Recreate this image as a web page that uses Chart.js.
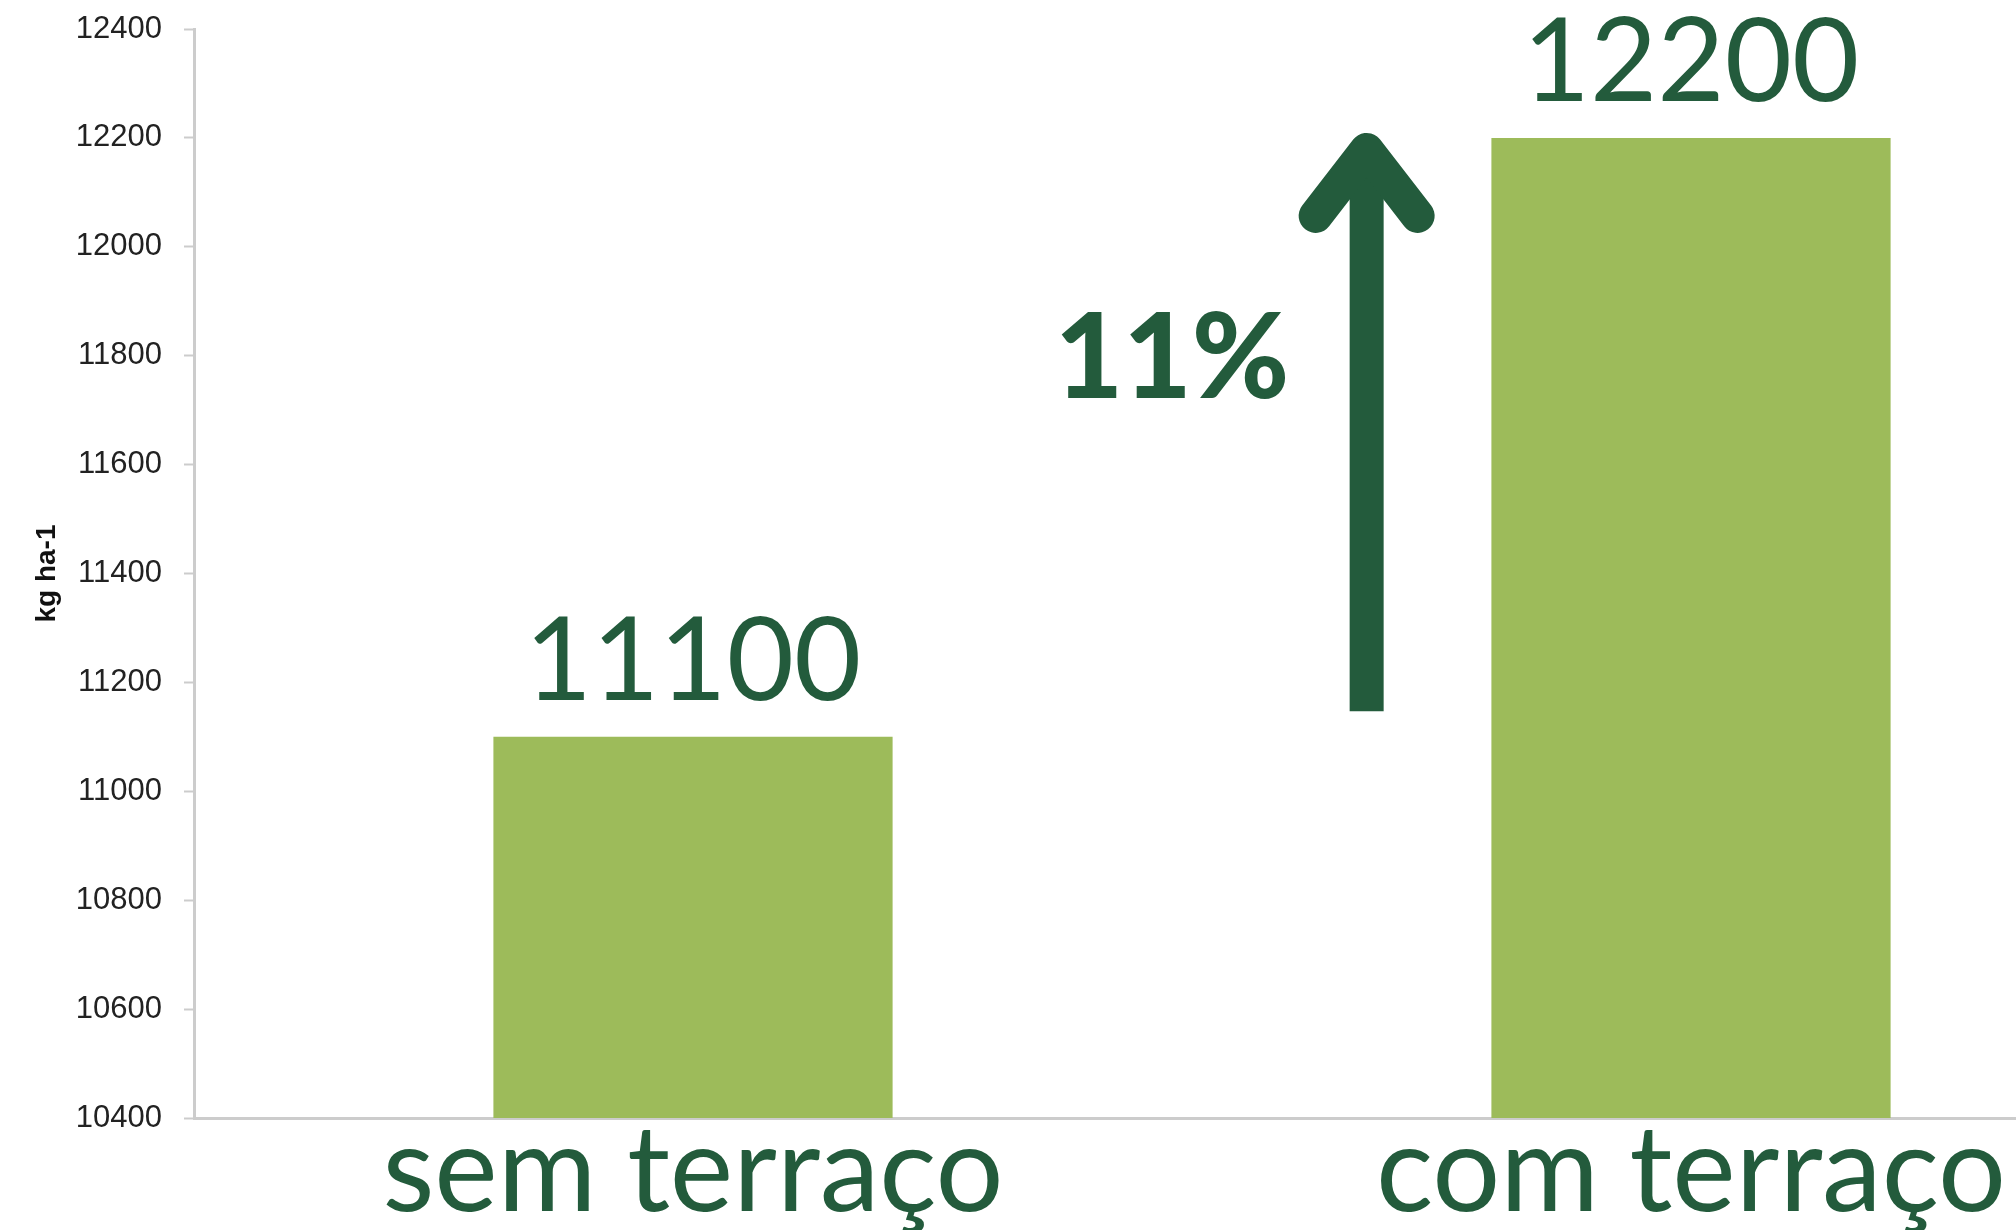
<!DOCTYPE html>
<html>
<head>
<meta charset="utf-8">
<script src="https://cdn.jsdelivr.net/npm/chart.js@4/dist/chart.umd.min.js"></script>
<style>
  html, body { margin: 0; padding: 0; background: #ffffff; overflow: hidden; }
  #wrap { width: 2190px; height: 1230px; }
</style>
</head>
<body>
<div id="wrap"><canvas id="c" width="2190" height="1230"></canvas></div>
<script>
// ---- data ----
const categories = ['sem terraço', 'com terraço'];
const yieldValues = [11100, 12200];
const valueLabels = ['11100', '12200'];
const yTicks = [10400, 10600, 10800, 11000, 11200, 11400, 11600, 11800, 12000, 12200, 12400];
const yAxisTitle = 'kg ha-1';
const increaseLabel = '11%';
// annotation in data space: arrow between the categories
const arrowX = [0.675];            // category-index position
const arrowRange = [11147, 12178]; // from, to (kg ha-1)
const increasePos = [0.48, 11792]; // category-index, value

const DARK = '#235b3c';
const BAR = '#9dbb5a';
const AXIS = '#cccccc';

const annotations = {
  id: 'annotations',
  afterDatasetsDraw(chart) {
    const ctx = chart.ctx;
    const xs = chart.scales.x, ys = chart.scales.y;
    const meta = chart.getDatasetMeta(0);
    ctx.save();
    // value labels
    ctx.fillStyle = DARK;
    ctx.font = '400 116px Lato';
    ctx.textAlign = 'center';
    ctx.textBaseline = 'alphabetic';
    meta.data.forEach((bar, i) => {
      ctx.fillText(valueLabels[i], bar.x, bar.y - 37);
    });
    // arrow
    const ax = xs.getPixelForValue(arrowX[0]);
    const yb = ys.getPixelForValue(arrowRange[0]);
    const yt = ys.getPixelForValue(arrowRange[1]);
    ctx.strokeStyle = DARK;
    ctx.lineWidth = 34;
    ctx.lineCap = 'butt';
    ctx.beginPath();
    ctx.moveTo(ax, yb);
    ctx.lineTo(ax, yt + 8);
    ctx.stroke();
    ctx.lineCap = 'round';
    ctx.lineJoin = 'round';
    ctx.beginPath();
    ctx.moveTo(ax - 51, yt + 66);
    ctx.lineTo(ax, yt);
    ctx.lineTo(ax + 51, yt + 66);
    ctx.stroke();
    // percentage
    ctx.font = '900 118px Lato';
    ctx.textBaseline = 'middle';
    ctx.fillText(increaseLabel, xs.getPixelForValue(increasePos[0]), ys.getPixelForValue(increasePos[1]));
    ctx.restore();
  }
};

new Chart(document.getElementById('c'), {
  type: 'bar',
  data: {
    labels: categories,
    datasets: [{
      data: yieldValues,
      backgroundColor: BAR,
      borderWidth: 0,
      barPercentage: 1,
      categoryPercentage: 0.4
    }]
  },
  options: {
    responsive: false,
    animation: false,
    devicePixelRatio: 1,
    layout: { padding: { top: 29, right: 0, left: 0, bottom: 0 } },
    plugins: { legend: { display: false }, tooltip: { enabled: false } },
    scales: {
      x: {
        grid: { display: false, drawTicks: false },
        border: { display: true, color: AXIS, width: 3 },
        ticks: {
          color: DARK,
          font: { family: 'Lato', size: 120, lineHeight: 0.8 },
          padding: 6,
          maxRotation: 0
        },
        afterFit(scale) { scale.height = 112; scale.paddingLeft = 0; scale.paddingRight = 0; }
      },
      y: {
        min: 10400,
        max: 12400,
        afterBuildTicks(scale) { scale.ticks = yTicks.map(v => ({ value: v })); },
        grid: { drawOnChartArea: false, drawTicks: true, tickLength: 10, tickColor: AXIS, tickWidth: 2 },
        border: { display: true, color: AXIS, width: 3 },
        ticks: {
          color: '#222222',
          font: { family: 'Liberation Sans', size: 31 },
          padding: 22,
          callback: (v) => String(v)
        },
        title: {
          display: true,
          text: yAxisTitle,
          color: '#111111',
          font: { family: 'Liberation Sans', size: 28, weight: 'bold', lineHeight: 1.2 },
          padding: { top: 30, bottom: 0 }
        },
        afterFit(scale) { scale.width = 194; scale.paddingTop = 0; scale.paddingBottom = 0; }
      }
    }
  },
  plugins: [annotations]
});
</script>
</body>
</html>
